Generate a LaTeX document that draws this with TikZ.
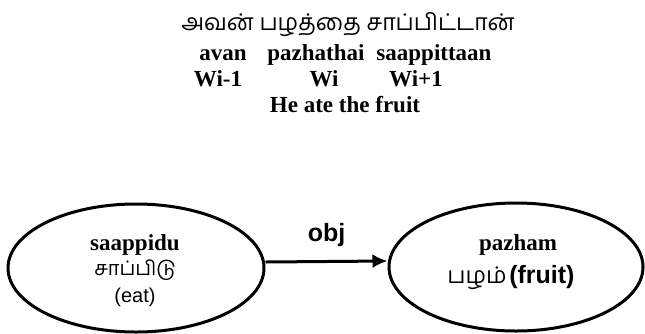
\documentclass[tikz,border=0pt]{standalone}
\usepackage{fontspec}
\setmainfont{Liberation Serif}
\setsansfont{Liberation Sans}
\newfontfamily\tamil[Script=Tamil]{Hind Madurai}
\usetikzlibrary{shapes.geometric,arrows.meta}
\tikzset{
    word/.style={anchor=base, font=\fontsize{23}{26}\selectfont\bfseries},
    tam/.style={anchor=base, font=\tamil\fontsize{23}{26}\selectfont},
    concept/.style={ellipse, draw, line width=3pt, minimum height=128pt, inner sep=0pt},
}
\begin{document}
\begin{tikzpicture}[x=1pt,y=-1pt]
    \useasboundingbox (0,0) rectangle (645,333);
    \node[tam] (sent) at (348,30) {அவன் பழத்தை சாப்பிட்டான்};
    \node[word] (avan) at (223,60) {avan};
    \node[word] (pazhathai) at (316,60) {pazhathai};
    \node[word] (saap) at (434,60) {saappittaan};
    \node[word] (wprev) at (218,86) {Wi-1};
    \node[word] (wcur) at (324,86) {Wi};
    \node[word] (wnext) at (416,86) {Wi+1};
    \node[word] (gloss) at (345,112) {He ate the fruit};
    \node[concept, minimum width=256pt] (eat) at (136,268) {};
    \node[word] (eatroman) at (135,250) {saappidu};
    \node[tam, font=\tamil\fontsize{20}{22}\selectfont, inner sep=0pt] (eattamil) at (135,275) {சாப்பிடு};
    \node[anchor=base, inner sep=0pt, font=\sffamily\fontsize{20}{24}\selectfont] (eatgloss) at (135,302) {(eat)};
    \node[concept, minimum width=254pt] (fruit) at (516,267) {};
    \node[word] (fruitroman) at (518,250) {pazham};
    \node[anchor=base] (fruittamil) at (511,283)
        {{\tamil\fontsize{23}{26}\selectfont பழம்} {\sffamily\bfseries\fontsize{25}{28}\selectfont (fruit)}};
    \draw[line width=3pt, -{Latex[length=15pt,width=14pt]}]
        ([yshift=6pt]eat.east) -- ([yshift=6pt]fruit.west)
        node[midway, above=10pt, font=\sffamily\bfseries\fontsize{25}{28}\selectfont] {obj};
\end{tikzpicture}
\end{document}
